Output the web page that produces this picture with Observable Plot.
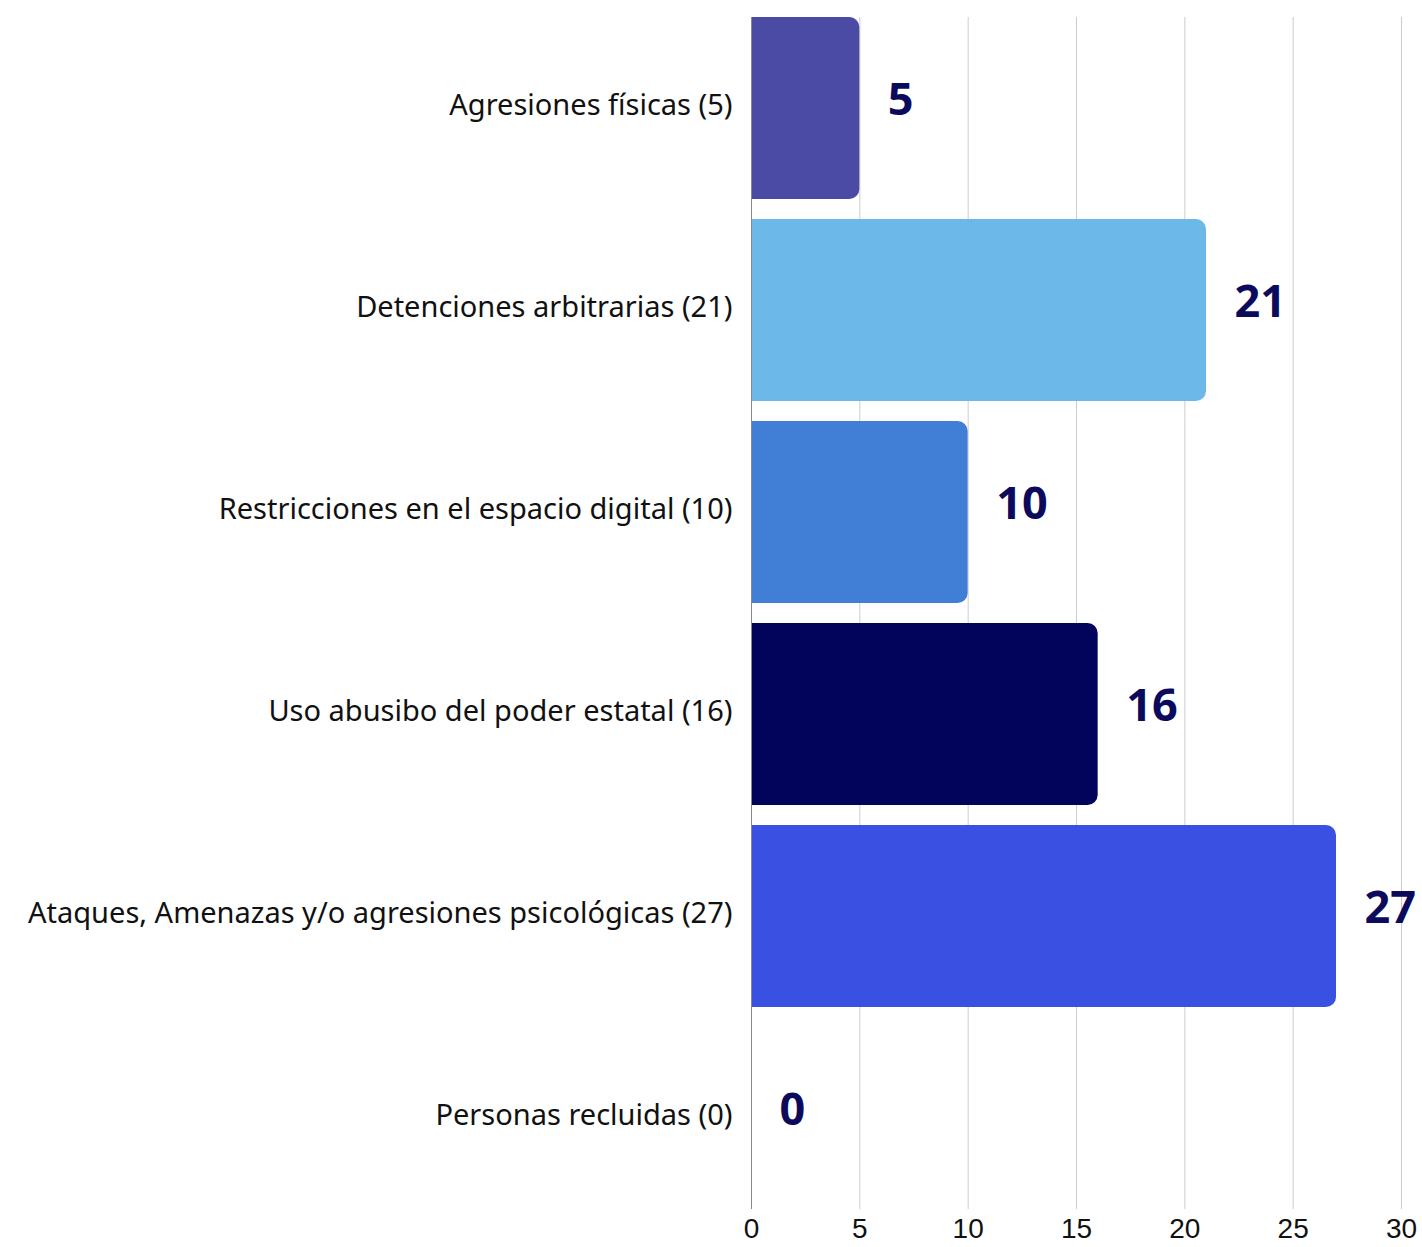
<!DOCTYPE html>
<html>
<head>
<meta charset="utf-8">
<script src="https://cdn.jsdelivr.net/npm/d3@7"></script>
<script src="https://cdn.jsdelivr.net/npm/@observablehq/plot@0.6"></script>
<style>
  html, body { margin: 0; padding: 0; background: #fff; }
  #chart svg { display: block; }
</style>
</head>
<body>
<div id="chart"></div>
<script>
const categories = [
  "Agresiones físicas (5)",
  "Detenciones arbitrarias (21)",
  "Restricciones en el espacio digital (10)",
  "Uso abusibo del poder estatal (16)",
  "Ataques, Amenazas y/o agresiones psicológicas (27)",
  "Personas recluidas (0)"
];
const values = [5, 21, 10, 16, 27, 0];
const colors = ["#4B4AA5", "#6CB8E8", "#417FD6", "#02045B", "#3A50E2", "#ffffff"];
const xTicks = [0, 5, 10, 15, 20, 25, 30];

const data = categories.map((c, i) => ({category: c, value: values[i], color: colors[i]}));
const bars = data.filter(d => d.value > 0);

const chart = Plot.plot({
  width: 1422,
  height: 1247,
  marginLeft: 751,
  marginRight: 21,
  marginTop: 17,
  marginBottom: 38,
  style: {background: "#fff"},
  x: {domain: [0, 30], ticks: xTicks, label: null},
  y: {domain: categories, paddingInner: 0.1, paddingOuter: 0, label: null},
  color: {type: "identity"},
  marks: [
    Plot.gridX(xTicks.filter(t => t > 0), {stroke: "#cccccc", strokeOpacity: 1, strokeWidth: 1}),
    Plot.barX(bars, {x: "value", y: "category", fill: "color", rx: 10}),
    Plot.barX(bars, {x1: 0, x2: d => d.value / 2, y: "category", fill: "color"}),
    Plot.ruleX([0], {stroke: "#8a8a8a", strokeWidth: 1}),
    Plot.axisX({ticks: xTicks, tickSize: 0, tickPadding: 9, fontSize: 28, fontFamily: "Liberation Sans", fill: "#111", label: null}),
    Plot.axisY({tickSize: 0, tickPadding: 19, dy: -3, fontSize: 29, fontFamily: "Noto Sans", fill: "#111", label: null}),
    Plot.text(data, {x: "value", y: "category", text: d => String(d.value), textAnchor: "start", dx: 28, dy: -8,
      fontSize: 45, fontWeight: 700, fontFamily: "Open Sans", fill: "#0B0A5C"})
  ]
});
document.getElementById("chart").appendChild(chart);
</script>
</body>
</html>
